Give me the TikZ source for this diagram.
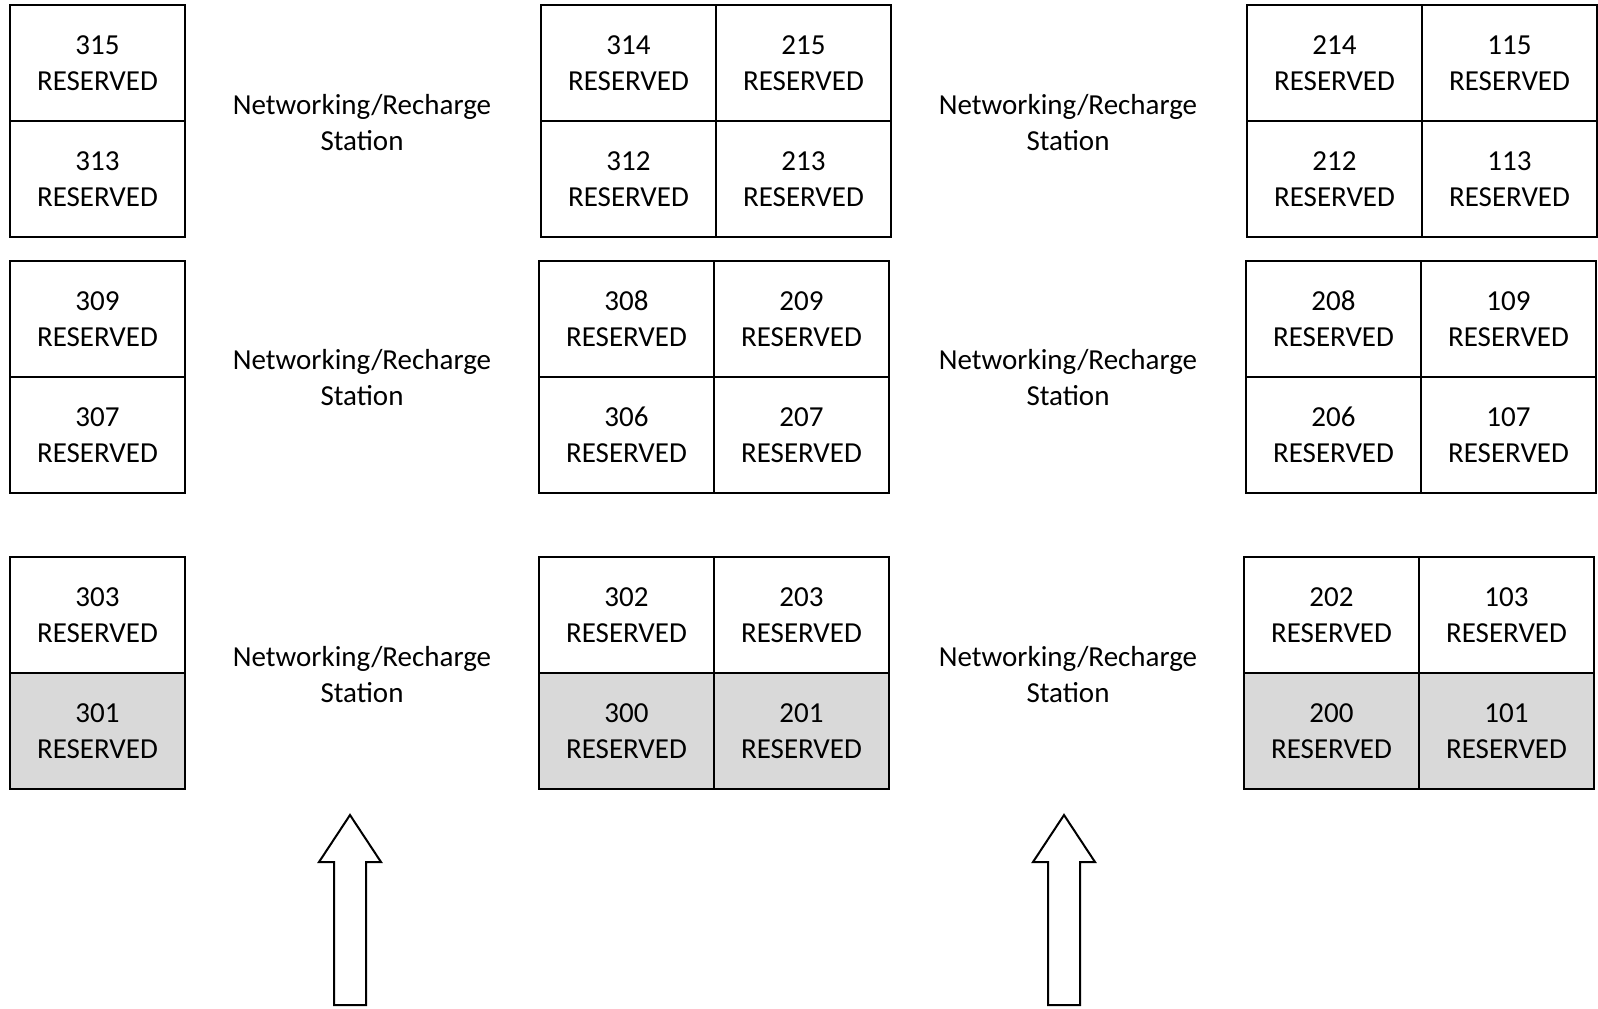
\documentclass[tikz,border=0pt]{standalone}
\usepackage{fontspec}
\setmainfont{Carlito}
\usetikzlibrary{positioning}

\begin{document}
\begin{tikzpicture}[x=0.5pt,y=-0.5pt,line width=1pt,
        cell/.style={draw,minimum width=87.5pt,minimum height=58pt,inner sep=0pt,
            outer sep=0pt,align=center,font=\fontsize{14.5}{18}\selectfont},
        booked/.style={cell,fill=black!15},
        station/.style={align=center,font=\fontsize{14.5}{18}\selectfont}]
    \useasboundingbox (0,0) rectangle (1598,1008);

    % left column
    \node[cell, anchor=north west] (c315) at (10,5) {315\\RESERVED};
    \node[cell, below=0pt of c315] (c313) {313\\RESERVED};
    \node[cell, anchor=north west] (c309) at (10,261) {309\\RESERVED};
    \node[cell, below=0pt of c309] (c307) {307\\RESERVED};
    \node[cell, anchor=north west] (c303) at (10,557) {303\\RESERVED};
    \node[booked, below=0pt of c303] (c301) {301\\RESERVED};

    % middle column
    \node[cell, anchor=north west] (c314) at (541,5) {314\\RESERVED};
    \node[cell, right=0pt of c314] (c215) {215\\RESERVED};
    \node[cell, below=0pt of c314] (c312) {312\\RESERVED};
    \node[cell, below=0pt of c215] (c213) {213\\RESERVED};
    \node[cell, anchor=north west] (c308) at (539,261) {308\\RESERVED};
    \node[cell, right=0pt of c308] (c209) {209\\RESERVED};
    \node[cell, below=0pt of c308] (c306) {306\\RESERVED};
    \node[cell, below=0pt of c209] (c207) {207\\RESERVED};
    \node[cell, anchor=north west] (c302) at (539,557) {302\\RESERVED};
    \node[cell, right=0pt of c302] (c203) {203\\RESERVED};
    \node[booked, below=0pt of c302] (c300) {300\\RESERVED};
    \node[booked, below=0pt of c203] (c201) {201\\RESERVED};

    % right column
    \node[cell, anchor=north west] (c214) at (1247,5) {214\\RESERVED};
    \node[cell, right=0pt of c214] (c115) {115\\RESERVED};
    \node[cell, below=0pt of c214] (c212) {212\\RESERVED};
    \node[cell, below=0pt of c115] (c113) {113\\RESERVED};
    \node[cell, anchor=north west] (c208) at (1246,261) {208\\RESERVED};
    \node[cell, right=0pt of c208] (c109) {109\\RESERVED};
    \node[cell, below=0pt of c208] (c206) {206\\RESERVED};
    \node[cell, below=0pt of c109] (c107) {107\\RESERVED};
    \node[cell, anchor=north west] (c202) at (1244,557) {202\\RESERVED};
    \node[cell, right=0pt of c202] (c103) {103\\RESERVED};
    \node[booked, below=0pt of c202] (c200) {200\\RESERVED};
    \node[booked, below=0pt of c103] (c101) {101\\RESERVED};

    % stations
    \foreach \sx/\sn in {362/a,1068/b}
        \foreach \sy/\sr in {123/1,378/2,675/3}
            \node[station] (st\sn\sr) at (\sx,\sy) {Networking/Recharge\\Station};

    % entry arrows
    \foreach \ax in {350,1064}
        \draw[fill=white] (\ax,815) -- (\ax+31,862) -- (\ax+16,862) -- (\ax+16,1005)
            -- (\ax-16,1005) -- (\ax-16,862) -- (\ax-31,862) -- cycle;
\end{tikzpicture}
\end{document}
